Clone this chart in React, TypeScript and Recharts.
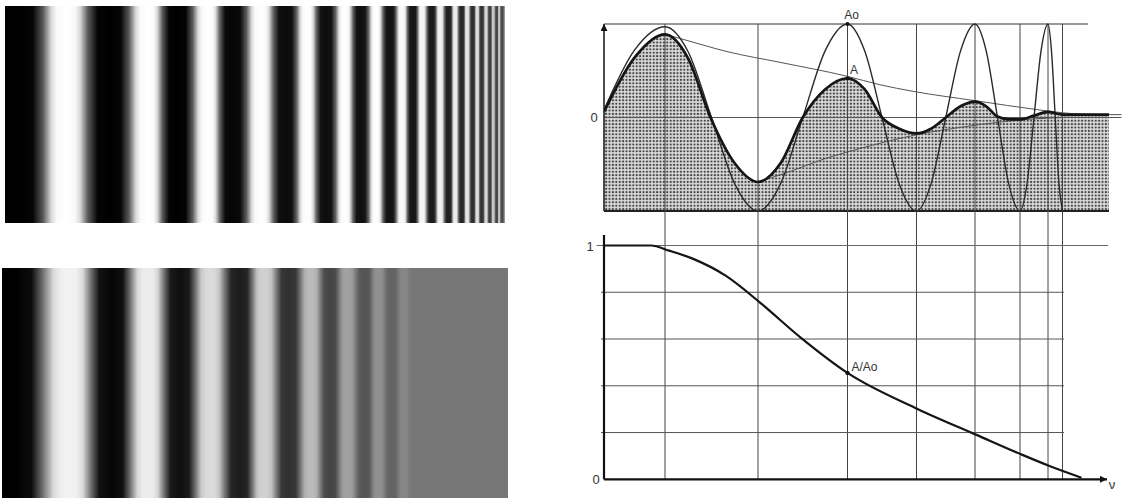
import React from 'react';
import {
  ComposedChart,
  Line,
  Area,
  XAxis,
  YAxis,
  ReferenceLine,
  ReferenceArea,
  ReferenceDot,
} from 'recharts';

// ---------- Left: gratings (position along grating, grey level 0=black 1=white) ----------
const topGratingPos = [0, 15, 61, 105, 143, 172, 203, 227, 256, 281, 302, 321, 340, 356, 371, 385, 397, 408, 417, 427, 435, 444, 450, 457, 462, 468, 472, 477, 481, 485, 488, 492, 494, 497, 500];
const topGratingLevel = [0, 0, 1, 0, 1, 0, 1, 0.02, 1, 0.04, 1, 0.05, 1, 0.06, 1, 0.07, 0.98, 0.08, 0.97, 0.1, 0.95, 0.12, 0.93, 0.15, 0.9, 0.18, 0.88, 0.2, 0.85, 0.25, 0.8, 0.28, 0.78, 0.3, 0.6];

const lowGratingPos = [0, 13, 68, 110, 146, 178, 208, 238, 262, 287, 309, 328, 345, 363, 376, 390, 402, 411, 506];
const lowGratingLevel = [0, 0, 0.95, 0.02, 0.93, 0.06, 0.86, 0.11, 0.82, 0.19, 0.73, 0.27, 0.63, 0.33, 0.57, 0.39, 0.53, 0.467, 0.467];

// ---------- Right top: input Ao, output A, envelopes ----------
const aoX = [0, 6.1, 12.2, 16.85, 21.5, 26.15, 30.8, 35.3, 39.75, 44.2, 48.7, 52.15, 55.6, 59.05, 62.5, 65.4, 68.35, 71.3, 74.2, 76.45, 78.7, 80.95, 83.2, 84.6, 86, 87.4, 88.8, 89.5, 90.25, 91, 91.7];
const aoY = [0.08, 0.72, 0.97, 0.7, 0, -0.71, -1, -0.71, 0, 0.71, 1, 0.71, 0, -0.71, -1, -0.71, 0, 0.71, 1, 0.71, 0, -0.71, -1, -0.71, 0, 0.71, 1, 0.71, 0, -0.71, -1];

const aX = [0, 6.1, 12.2, 16.85, 21.3, 26.15, 30.8, 35.3, 39.75, 44.2, 48.7, 52.15, 55.6, 59.05, 62.5, 65.4, 68.35, 71.3, 74.2, 76.45, 78.7, 81, 83.2, 86, 88.8, 91.7, 95, 101];
const aY = [0.06, 0.64, 0.89, 0.63, 0, -0.49, -0.69, -0.49, 0, 0.3, 0.42, 0.3, 0, -0.12, -0.17, -0.12, 0, 0.12, 0.17, 0.12, 0.01, -0.02, -0.02, 0.02, 0.06, 0.03, 0.03, 0.03];

const upperEnvX = [12.2, 16.2, 25, 35.2, 48.7, 55.2, 61.8, 74.2, 87.2, 91.8, 96, 103.5];
const upperEnvY = [0.89, 0.83, 0.7, 0.59, 0.44, 0.35, 0.28, 0.18, 0.08, 0.05, 0.035, 0.03];

const lowerEnvX = [30.8, 36, 44.8, 52, 62.5, 72, 79, 86, 92];
const lowerEnvY = [-0.69, -0.6, -0.43, -0.32, -0.185, -0.1, -0.05, -0.015, 0];

const gridX = [12.2, 30.8, 48.7, 62.5, 74.2, 83.2, 88.8, 91.7];

// ---------- Right bottom: A/Ao ----------
const mtfX = [0, 9.4, 13, 17.6, 24.4, 31.2, 39.4, 48.7, 62.8, 74.5, 83.4, 89.1, 95.5];
const mtfY = [1, 1, 0.978, 0.945, 0.87, 0.756, 0.605, 0.455, 0.3, 0.19, 0.107, 0.057, 0.007];
const mtfGridY = [0.2, 0.4, 0.6, 0.8];

// ---------- styling helpers ----------
const TOP_RAMP = [[0, 0], [0.28, 0.02], [0.5, 0.35], [0.68, 0.85], [0.8, 0.98], [1, 1]];
const LOW_RAMP = [[0, 0], [0.3, 0.05], [0.5, 0.45], [0.7, 0.9], [0.85, 0.99], [1, 1]];

const gray = (v: number) => {
  const c = Math.round(Math.max(0, Math.min(1, v)) * 255);
  return `rgb(${c},${c},${c})`;
};

function segmentGradient(id: string, a: number, b: number, ramp: number[][]) {
  const lo = Math.min(a, b);
  const hi = Math.max(a, b);
  const rising = b >= a;
  const stops = ramp
    .map(([t, r]) => ({ o: rising ? t : 1 - t, v: lo + (hi - lo) * r }))
    .sort((p, q) => p.o - q.o);
  return (
    <linearGradient key={id} id={id} x1="0" y1="0" x2="1" y2="0">
      {stops.map((s, k) => (
        <stop key={k} offset={s.o} stopColor={gray(s.v)} />
      ))}
    </linearGradient>
  );
}

function Grating({ pos, level, ramp, width, height, prefix }: any) {
  const rows = pos.map((p: number, i: number) => ({ x: p, y: level[i] }));
  const max = pos[pos.length - 1];
  return (
    <ComposedChart width={width} height={height} data={rows} margin={{ top: 0, right: 0, bottom: 0, left: 0 }}>
      <defs>
        {pos.slice(0, -1).map((p: number, i: number) => segmentGradient(`${prefix}${i}`, level[i], level[i + 1], ramp))}
      </defs>
      <XAxis type="number" dataKey="x" domain={[0, max]} hide allowDataOverflow />
      <YAxis type="number" domain={[0, 1]} hide allowDataOverflow />
      {pos.slice(0, -1).map((p: number, i: number) => (
        <ReferenceArea
          key={i}
          x1={p}
          x2={pos[i + 1]}
          y1={0}
          y2={1}
          fill={`url(#${prefix}${i})`}
          fillOpacity={1}
          stroke="none"
          ifOverflow="visible"
        />
      ))}
      <Line dataKey="y" stroke="none" dot={false} isAnimationActive={false} />
    </ComposedChart>
  );
}

const FONT = '"Liberation Sans", Arial, sans-serif';

function dotLabel(text: string, dx: number, dy: number, anchor = 'middle', size = 12) {
  return (props: any) => {
    const vb = props.viewBox || {};
    const cx = (vb.x ?? 0) + (vb.width ?? 0) / 2;
    const cy = (vb.y ?? 0) + (vb.height ?? 0) / 2;
    return (
      <text
        x={cx + dx}
        y={cy + dy}
        textAnchor={anchor}
        dominantBaseline="central"
        fontSize={size}
        fontFamily={FONT}
        fill="#333"
      >
        {text}
      </text>
    );
  };
}

const arrowShape = (color: string, width: number) => (p: any) => (
  <line x1={p.x1} y1={p.y1} x2={p.x2} y2={p.y2} stroke={color} strokeWidth={width} markerEnd="url(#arrowHead)" />
);

// layout of the right-hand chart
const R_W = 540;
const R_H = 498;
const M_TOP = 10;
const M_BOT = 8;
const M_LEFT = 20;
const plotTop = M_TOP;
const plotBot = R_H - M_BOT;
const T1 = 24;
const TM1 = 211;
const tUnit = (TM1 - T1) / 2;
const tDomain = [-1 - (plotBot - TM1) / tUnit, 1 + (T1 - plotTop) / tUnit];
const B1 = 245.5;
const B0 = 479.3;
const bUnit = B0 - B1;
const bDomain = [-(plotBot - B0) / bUnit, 1 + (B1 - plotTop) / bUnit];
const bAtTopLine = 1 + (B1 - T1) / bUnit;

function RightChart() {
  const aoRows = aoX.map((x, i) => ({ x, y: aoY[i] }));
  const aRows = aX.map((x, i) => ({ x, y: aY[i] }));
  const upRows = upperEnvX.map((x, i) => ({ x, y: upperEnvY[i] }));
  const lowRows = lowerEnvX.map((x, i) => ({ x, y: lowerEnvY[i] }));
  const mtfRows = mtfX.map((x, i) => ({ x, y: mtfY[i] }));
  const grid = '#444';
  return (
    <ComposedChart width={R_W} height={R_H} margin={{ top: M_TOP, right: 0, bottom: M_BOT, left: M_LEFT }}>
      <defs>
        <pattern id="dots" width="3.4" height="3.4" patternUnits="userSpaceOnUse">
          <rect width="3.4" height="3.4" fill="#dcdcdc" />
          <circle cx="1.7" cy="1.7" r="1.15" fill="#444" />
        </pattern>
        <marker id="arrowHead" viewBox="0 0 10 10" refX="10" refY="5" markerWidth="9" markerHeight="7" markerUnits="userSpaceOnUse" orient="auto">
          <path d="M0,0 L10,5 L0,10 z" fill="#111" />
        </marker>
      </defs>
      <XAxis type="number" dataKey="x" domain={[0, 104]} hide allowDataOverflow />
      <YAxis yAxisId="t" type="number" domain={tDomain} hide allowDataOverflow />
      <YAxis yAxisId="b" type="number" domain={bDomain} hide allowDataOverflow />

      {/* shaded output */}
      <Area
        yAxisId="t"
        data={aRows}
        dataKey="y"
        type="monotone"
        baseValue={-1}
        fill="url(#dots)"
        fillOpacity={1}
        stroke="none"
        isAnimationActive={false}
      />

      {/* frame of the upper diagram */}
      <ReferenceLine yAxisId="t" segment={[{ x: 0, y: 1 }, { x: 96.8, y: 1 }]} stroke="#333" strokeWidth={1.2} />
      <ReferenceLine yAxisId="t" segment={[{ x: 0, y: 0 }, { x: 103.5, y: 0 }]} stroke="#555" strokeWidth={1.2} />
      <ReferenceLine yAxisId="t" segment={[{ x: 0, y: -1 }, { x: 101, y: -1 }]} stroke="#222" strokeWidth={2} />

      {/* vertical grid through both diagrams */}
      {gridX.map((x) => (
        <ReferenceLine key={`v${x}`} yAxisId="b" segment={[{ x, y: 0 }, { x, y: bAtTopLine }]} stroke={grid} strokeWidth={1} />
      ))}

      {/* horizontal grid of lower diagram */}
      {mtfGridY.map((y) => (
        <ReferenceLine key={`h${y}`} yAxisId="b" segment={[{ x: -0.6, y }, { x: 92, y }]} stroke="#555" strokeWidth={1} ifOverflow="visible" />
      ))}
      <ReferenceLine yAxisId="b" segment={[{ x: -1.5, y: 1 }, { x: 100.8, y: 1 }]} stroke="#666" strokeWidth={1} ifOverflow="visible" />

      {/* axes */}
      <ReferenceLine yAxisId="t" segment={[{ x: 0, y: -1 }, { x: 0, y: 1 }]} shape={arrowShape('#222', 1.6)} />
      <ReferenceLine yAxisId="b" segment={[{ x: 0, y: 0 }, { x: 0, y: 1.045 }]} stroke="#111" strokeWidth={2.2} />
      <ReferenceLine yAxisId="b" segment={[{ x: 0, y: 0 }, { x: 100.6, y: 0 }]} shape={arrowShape('#111', 2.2)} />

      {/* curves */}
      <Line yAxisId="t" data={upRows} dataKey="y" type="monotone" stroke="#555" strokeWidth={1} dot={false} isAnimationActive={false} />
      <Line yAxisId="t" data={lowRows} dataKey="y" type="monotone" stroke="#555" strokeWidth={1} dot={false} isAnimationActive={false} />
      <Line yAxisId="t" data={aoRows} dataKey="y" type="monotone" stroke="#2a2a2a" strokeWidth={1.4} dot={false} isAnimationActive={false} />
      <Line yAxisId="t" data={aRows} dataKey="y" type="monotone" stroke="#151515" strokeWidth={2.7} dot={false} isAnimationActive={false} />
      <Line yAxisId="b" data={mtfRows} dataKey="y" type="monotone" stroke="#151515" strokeWidth={2.2} dot={false} isAnimationActive={false} />

      {/* labels */}
      <ReferenceDot yAxisId="t" x={0} y={0} r={1} fill="none" stroke="none" label={dotLabel('0', -10, 0, 'middle', 13)} />
      <ReferenceDot yAxisId="t" x={48.7} y={1} r={2} fill="#111" stroke="none" label={dotLabel('Ao', 4, -9, 'middle', 12)} />
      <ReferenceDot yAxisId="t" x={48.7} y={0.42} r={2} fill="#111" stroke="none" label={dotLabel('A', 6.5, -8, 'middle', 12)} />
      <ReferenceDot yAxisId="b" x={0} y={1} r={1} fill="none" stroke="none" label={dotLabel('1', -14, 1, 'middle', 13)} />
      <ReferenceDot yAxisId="b" x={0} y={0} r={1} fill="none" stroke="none" label={dotLabel('0', -8, 0, 'middle', 13)} />
      <ReferenceDot yAxisId="b" x={48.7} y={0.455} r={2.2} fill="#111" stroke="none" label={dotLabel('A/Ao', 4, -6, 'start', 12)} />
      <ReferenceDot yAxisId="b" x={100.6} y={0} r={1} fill="none" stroke="none" label={dotLabel('ν', 5, 5, 'middle', 13)} />
    </ComposedChart>
  );
}

export default function App() {
  return (
    <div style={{ position: 'absolute', left: 0, top: 0, width: 1124, height: 498, background: '#fff', overflow: 'hidden' }}>
      <div style={{ position: 'absolute', left: 5, top: 6 }}>
        <Grating pos={topGratingPos} level={topGratingLevel} ramp={TOP_RAMP} width={500} height={217} prefix="tg" />
      </div>
      <div style={{ position: 'absolute', left: 2, top: 268 }}>
        <Grating pos={lowGratingPos} level={lowGratingLevel} ramp={LOW_RAMP} width={506} height={230} prefix="lg" />
      </div>
      <div style={{ position: 'absolute', left: 584, top: 0 }}>
        <RightChart />
      </div>
    </div>
  );
}
